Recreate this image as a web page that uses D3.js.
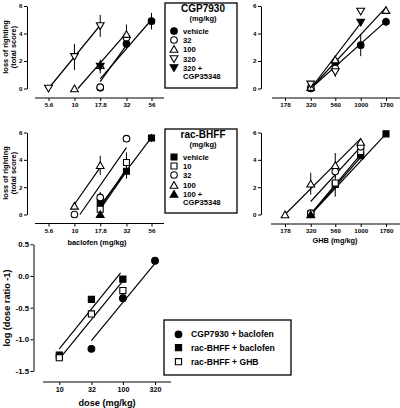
<!DOCTYPE html>
<html><head><meta charset="utf-8">
<script src="https://cdn.jsdelivr.net/npm/d3@7"></script>
<style>
body{margin:0;background:#fff}
svg{display:block}
text{font-family:"Liberation Sans",Arial,sans-serif;font-weight:bold;fill:#000}
</style>
</head><body><svg id="c" width="400" height="408"></svg>
<script>
// ---------------- data ----------------
const baclofenDoses = [5.6, 10, 17.8, 32, 56];
const ghbDoses = [178, 320, 560, 1000, 1780];
const scoreTicks = [0, 2, 4, 6];
const ratioDoses = [10, 32, 100, 320];
const ratioTicks = [-1.5, -1.0, -0.5, 0.0, 0.5];

const cgpLabels = ["vehicle", "32", "100", "320", "320 +|CGP35348"];
const bhffLabels = ["vehicle", "10", "32", "100", "100 +|CGP35348"];

// CGP7930 + baclofen (rows = legend entries, cols = baclofenDoses)
const cgpBacMeans = [
  [null, null, 0.05, 3.25, 4.9],
  [null, null, 0.1, 3.7, null],
  [null, 0.0, 1.7, 3.95, null],
  [0.0, 2.3, 4.55, null, null],
  [null, null, 1.6, null, null]
];
const cgpBacSem = [
  [0, 0, 0, 0.4, 0.6],
  [0, 0, 0, 0.5, 0],
  [0, 0, 0, 0.7, 0],
  [0, 0.95, 0.8, 0, 0],
  [0, 0, 0.5, 0, 0]
];
const cgpBacFits = [[5.6, 0, 17.8, 4.6], [10.8, 0, 32, 4.05], [17.8, 0.7, 56, 5.0], [17.8, 0.5, 32, 3.15]];

// CGP7930 + GHB (cols = ghbDoses)
const cgpGhbMeans = [
  [null, 0.0, 1.9, 3.15, 4.85],
  [null, 0.05, 1.45, null, null],
  [null, 0.1, 2.1, null, 5.7],
  [null, 0.3, 1.2, 5.6, null],
  [null, null, null, 4.8, null]
];
const cgpGhbSem = [
  [0, 0, 0.5, 0.8, 0.3],
  [0, 0, 0.3, 0, 0],
  [0, 0, 0, 0, 0],
  [0, 0, 0.35, 0, 0],
  [0, 0, 0, 0.25, 0]
];
const cgpGhbFits = [[320, 0, 1000, 4.75], [320, 0, 1780, 5.9], [320, 0, 1780, 4.9]];

// rac-BHFF + baclofen
const bhffBacMeans = [
  [null, null, 0.87, 3.17, 5.6],
  [null, null, 0.38, 3.8, null],
  [null, 0.0, 1.25, 5.55, null],
  [null, 0.63, 3.6, null, null],
  [null, null, 0.02, null, null]
];
const bhffBacSem = [
  [0, 0, 0.3, 0.55, 0.3],
  [0, 0, 0.2, 0.75, 0],
  [0, 0, 0.4, 0, 0],
  [0, 0.2, 0.7, 0, 0],
  [0, 0, 0, 0, 0]
];
const bhffBacFits = [[10, 0.75, 17.8, 3.45], [11.3, 0, 32, 4.9], [17.8, 0.65, 56, 5.65], [17.8, 0.5, 32, 3.35], [17.8, 0.4, 32, 3.15]];

// rac-BHFF + GHB
const bhffGhbMeans = [
  [null, 0.0, 2.2, 4.3, 5.9],
  [null, 0.05, 2.3, 4.6, null],
  [null, 0.1, 3.15, 4.95, null],
  [0.0, 2.25, 3.6, 5.3, null],
  [null, 0.0, null, null, null]
];
const bhffGhbSem = [
  [0, 0, 0.9, 0, 0],
  [0, 0, 0, 0.3, 0],
  [0, 0, 0, 0, 0],
  [0, 0.8, 0.9, 0, 0],
  [0, 0, 0, 0, 0]
];
const bhffGhbFits = [[178, 0, 1000, 5.55], [320, 0.95, 1000, 4.95], [320, 0, 1780, 5.9], [320, 0.05, 1000, 4.4], [320, 0, 1000, 4.2]];

// log (dose ratio - 1)
const ratioLabels = ["CGP7930 + baclofen", "rac-BHFF + baclofen", "rac-BHFF + GHB"];
const ratioMeans = [
  [null, -1.15, -0.35, 0.24],
  [-1.25, -0.37, -0.05, null],
  [-1.29, -0.6, -0.23, null]
];
const ratioFits = [[32, -1.02, 320, 0.2], [10, -1.15, 92, 0.05], [10.8, -1.27, 96, -0.1]];

// ---------------- drawing ----------------
const svg = d3.select("#c");
const FILL = {
  fc: ["circle", true, 0], oc: ["circle", false, 0],
  fs: ["square", true, 0], os: ["square", false, 0],
  ou: ["tri", false, 0], od: ["tri", false, 180],
  fu: ["tri", true, 0], fd: ["tri", true, 180]
};
const cgpSyms = ["fc", "oc", "ou", "od", "fd"];
const bhffSyms = ["fs", "os", "oc", "ou", "fu"];
const ratioSyms = ["fc", "fs", "os"];

function marker(g, key, x, y, scale) {
  const [shape, filled, rot] = FILL[key];
  const s = scale || 1;
  const type = shape === "circle" ? d3.symbolCircle : shape === "square" ? d3.symbolSquare : d3.symbolTriangle;
  const size = shape === "circle" ? 34 * s : shape === "square" ? 36 * s : 26 * s;
  let dy = 0;
  if (shape === "tri") dy = rot ? -1 : 1;
  g.append("path")
    .attr("d", d3.symbol().type(type).size(size)())
    .attr("transform", `translate(${x},${y + dy}) rotate(${rot})`)
    .attr("fill", filled ? "#000" : "#fff")
    .attr("stroke", "#000")
    .attr("stroke-width", 1.1);
}

function panel(o) {
  const g = svg.append("g");
  // y axis
  const ya = d3.axisLeft(o.y).tickValues(o.yTicks).tickSize(3).tickSizeOuter(0).tickFormat(o.yFmt);
  const yg = g.append("g").attr("transform", `translate(${o.yAxisX},0)`).call(ya);
  yg.selectAll("text").attr("font-size", o.tickFont).attr("x", -4.5);
  yg.selectAll("path,line").attr("stroke", "#000").attr("stroke-width", 1);
  // x axis
  const xa = d3.axisBottom(o.x).tickValues(o.xTicks).tickSize(3).tickSizeOuter(0).tickFormat(d => String(d));
  const xg = g.append("g").attr("transform", `translate(0,${o.xAxisY})`).call(xa);
  xg.select(".domain").remove();
  xg.append("line").attr("x1", o.xLine[0]).attr("x2", o.xLine[1]).attr("stroke", "#000").attr("stroke-width", 1);
  xg.selectAll("text").attr("font-size", o.xTickFont || o.tickFont).attr("y", 5);
  xg.selectAll(".tick line").attr("stroke", "#000");
  // fits
  o.fits.forEach(f => {
    g.append("line")
      .attr("x1", o.x(f[0])).attr("y1", o.y(f[1]))
      .attr("x2", o.x(f[2])).attr("y2", o.y(f[3]))
      .attr("stroke", "#000").attr("stroke-width", 1.2);
  });
  // error bars
  if (o.sems) {
    o.means.forEach((row, i) => row.forEach((v, j) => {
      const e = o.sems[i][j];
      if (v == null || !e) return;
      g.append("line").attr("x1", o.x(o.doses[j])).attr("x2", o.x(o.doses[j]))
        .attr("y1", o.y(v - e)).attr("y2", o.y(v + e))
        .attr("stroke", "#000").attr("stroke-width", 1);
    }));
  }
  // markers
  o.means.forEach((row, i) => row.forEach((v, j) => {
    if (v == null) return;
    marker(g, o.syms[i], o.x(o.doses[j]), o.y(v), o.mScale);
  }));
  // titles
  if (o.xTitle) {
    g.append("text").attr("x", o.xTitle[1]).attr("y", o.xTitle[2]).attr("text-anchor", "middle")
      .attr("font-size", o.titleFont).text(o.xTitle[0]);
  }
  if (o.yTitle) {
    o.yTitle.forEach((t, k) => {
      g.append("text").attr("transform", `translate(${o.yTitleX[k]},${o.yTitleY}) rotate(-90)`)
        .attr("text-anchor", "middle").attr("font-size", o.titleFont).text(t);
    });
  }
}

const xBacTop = d3.scaleLog().domain([5.6, 56]).range([48.5, 151.5]);
const xGhbTop = d3.scaleLog().domain([178, 1780]).range([285, 386]);
const yTop = d3.scaleLinear().domain([0, 6]).range([88.5, 6]);
const yMid = d3.scaleLinear().domain([0, 6]).range([214.5, 132.5]);
const xRatio = d3.scaleLog().domain([10, 320]).range([59.3, 155]);
const yRatio = d3.scaleLinear().domain([-1.5, 0.5]).range([371, 244.3]);

const common = {tickFont: 6.2, titleFont: 7.4, yFmt: d => String(d), yTicks: scoreTicks};

panel(Object.assign({}, common, {x: xBacTop, y: yTop, doses: baclofenDoses, xTicks: baclofenDoses,
  yAxisX: 27, xAxisY: 98, xLine: [35, 164], means: cgpBacMeans, sems: cgpBacSem, fits: cgpBacFits, syms: cgpSyms,
  yTitle: ["loss of righting", "(total score)"], yTitleX: [8, 15.5], yTitleY: 47}));
panel(Object.assign({}, common, {x: xGhbTop, y: yTop, doses: ghbDoses, xTicks: ghbDoses,
  yAxisX: 261, xAxisY: 98, xLine: [272, 400], means: cgpGhbMeans, sems: cgpGhbSem, fits: cgpGhbFits, syms: cgpSyms}));
panel(Object.assign({}, common, {x: xBacTop, y: yMid, doses: baclofenDoses, xTicks: baclofenDoses,
  yAxisX: 27, xAxisY: 223.5, xLine: [35, 164], means: bhffBacMeans, sems: bhffBacSem, fits: bhffBacFits, syms: bhffSyms,
  yTitle: ["loss of righting", "(total score)"], yTitleX: [8, 15.5], yTitleY: 173,
  xTitle: ["baclofen (mg/kg)", 97, 245]}));
panel(Object.assign({}, common, {x: xGhbTop, y: yMid, doses: ghbDoses, xTicks: ghbDoses,
  yAxisX: 261, xAxisY: 224, xLine: [271, 400], means: bhffGhbMeans, sems: bhffGhbSem, fits: bhffGhbFits, syms: bhffSyms,
  xTitle: ["GHB (mg/kg)", 335, 243]}));
panel({x: xRatio, y: yRatio, doses: ratioDoses, xTicks: ratioDoses, yTicks: ratioTicks, yFmt: d => d.toFixed(1),
  tickFont: 7.8, xTickFont: 7.2, titleFont: 9.2, mScale: 1.05,
  yAxisX: 33.5, xAxisY: 382, xLine: [43, 171], means: ratioMeans, sems: null, fits: ratioFits, syms: ratioSyms,
  yTitle: ["log (dose ratio -1)"], yTitleX: [10], yTitleY: 308, xTitle: ["dose (mg/kg)", 107, 406]});

// legends
function legend(o) {
  const g = svg.append("g");
  g.append("rect").attr("x", o.box[0]).attr("y", o.box[1]).attr("width", o.box[2]).attr("height", o.box[3])
    .attr("fill", "#fff").attr("stroke", "#000").attr("stroke-width", 1.3);
  if (o.title) {
    g.append("text").attr("x", o.cx).attr("y", o.titleY).attr("text-anchor", "middle").attr("font-size", 10).text(o.title);
    g.append("text").attr("x", o.cx).attr("y", o.titleY + 9).attr("text-anchor", "middle").attr("font-size", 7.5).text("(mg/kg)");
  }
  o.labels.forEach((lab, i) => {
    const y = o.rows[i];
    marker(g, o.syms[i], o.mx, y, o.mScale);
    lab.split("|").forEach((part, k) => {
      g.append("text").attr("x", o.tx).attr("y", y + 2.8 + k * 8.5).attr("font-size", o.font).text(part);
    });
  });
}
legend({box: [165, 3, 72, 85], title: "CGP7930", cx: 203, titleY: 12, labels: cgpLabels, syms: cgpSyms,
  rows: [31, 40, 49, 59, 68], mx: 174, tx: 183, font: 7.6});
legend({box: [165, 129, 72, 84], title: "rac-BHFF", cx: 203, titleY: 138, labels: bhffLabels, syms: bhffSyms,
  rows: [157, 166, 175, 185, 194], mx: 174, tx: 183, font: 7.6});
legend({box: [164, 320, 127, 55], labels: ratioLabels, syms: ratioSyms,
  rows: [334.3, 347.7, 361.7], mx: 178.5, tx: 191, font: 8.6, mScale: 1.05});
</script></body></html>
